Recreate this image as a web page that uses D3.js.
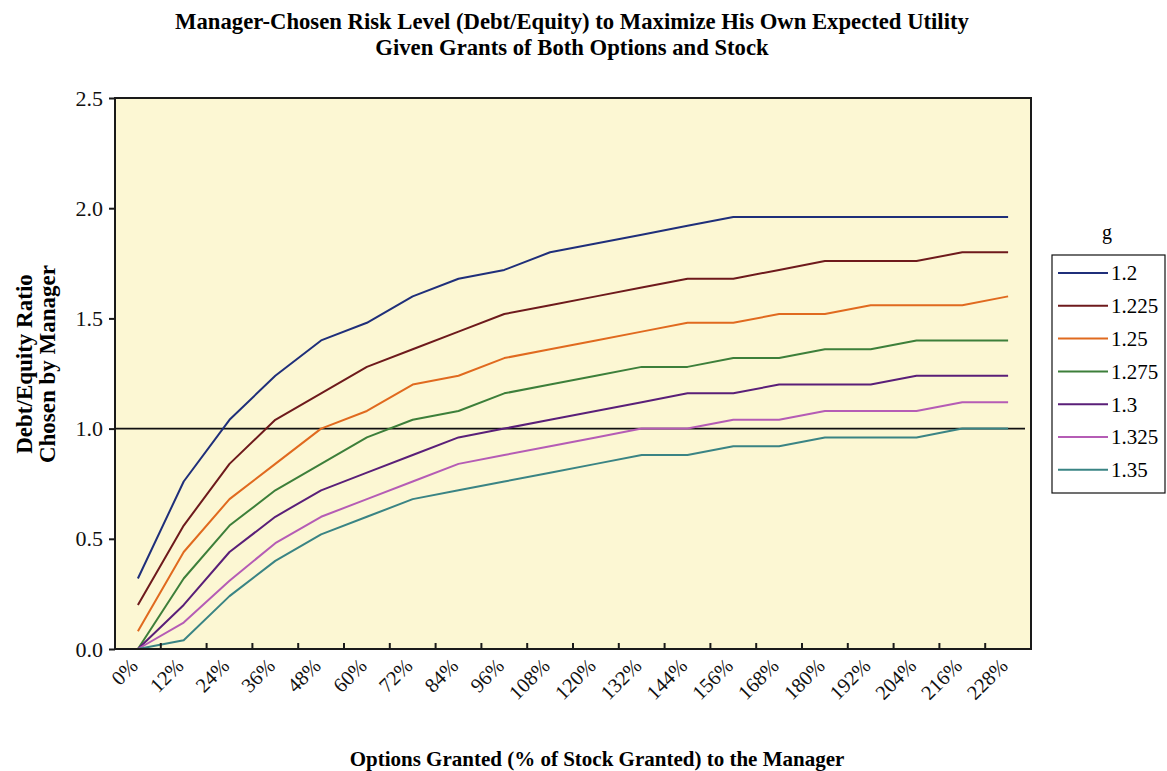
<!DOCTYPE html>
<html>
<head>
<meta charset="utf-8">
<script src="https://cdn.jsdelivr.net/npm/d3@7"></script>
<style>
  body { margin: 0; background: #fff; }
  svg { font-family: "Liberation Serif", "Times New Roman", serif; }
</style>
</head>
<body>
<div id="chart"></div>
<script>
// categories: options granted as % of stock granted
const categories = ["0%", "12%", "24%", "36%", "48%", "60%", "72%", "84%", "96%", "108%",
  "120%", "132%", "144%", "156%", "168%", "180%", "192%", "204%", "216%", "228%"];

const yTicks = [0, 0.5, 1.0, 1.5, 2.0, 2.5];

const gValues = ["1.2", "1.225", "1.25", "1.275", "1.3", "1.325", "1.35"];

const g120  = [0.32, 0.76, 1.04, 1.24, 1.40, 1.48, 1.60, 1.68, 1.72, 1.80, 1.84, 1.88, 1.92, 1.96, 1.96, 1.96, 1.96, 1.96, 1.96, 1.96];
const g1225 = [0.20, 0.56, 0.84, 1.04, 1.16, 1.28, 1.36, 1.44, 1.52, 1.56, 1.60, 1.64, 1.68, 1.68, 1.72, 1.76, 1.76, 1.76, 1.80, 1.80];
const g125  = [0.08, 0.44, 0.68, 0.84, 1.00, 1.08, 1.20, 1.24, 1.32, 1.36, 1.40, 1.44, 1.48, 1.48, 1.52, 1.52, 1.56, 1.56, 1.56, 1.60];
const g1275 = [0.00, 0.32, 0.56, 0.72, 0.84, 0.96, 1.04, 1.08, 1.16, 1.20, 1.24, 1.28, 1.28, 1.32, 1.32, 1.36, 1.36, 1.40, 1.40, 1.40];
const g130  = [0.00, 0.20, 0.44, 0.60, 0.72, 0.80, 0.88, 0.96, 1.00, 1.04, 1.08, 1.12, 1.16, 1.16, 1.20, 1.20, 1.20, 1.24, 1.24, 1.24];
const g1325 = [0.00, 0.12, 0.31, 0.48, 0.60, 0.68, 0.76, 0.84, 0.88, 0.92, 0.96, 1.00, 1.00, 1.04, 1.04, 1.08, 1.08, 1.08, 1.12, 1.12];
const g135  = [0.00, 0.04, 0.24, 0.40, 0.52, 0.60, 0.68, 0.72, 0.76, 0.80, 0.84, 0.88, 0.88, 0.92, 0.92, 0.96, 0.96, 0.96, 1.00, 1.00];

const seriesValues = [g120, g1225, g125, g1275, g130, g1325, g135];
const colors = ["#1f2f7a", "#6e1a1c", "#e06a1f", "#3d7f3a", "#5a1f78", "#b55cb5", "#3a8484"];

const W = 1167, H = 771;
const margin = { top: 98, right: 136, bottom: 122, left: 115 };
const innerW = W - margin.left - margin.right;
const innerH = H - margin.top - margin.bottom;

const svg = d3.select("#chart").append("svg")
  .attr("width", W)
  .attr("height", H);

// title
const title = svg.append("text")
  .attr("text-anchor", "middle")
  .attr("font-weight", "bold")
  .attr("font-size", "22.7px");
title.append("tspan").attr("x", 572).attr("y", 29)
  .text("Manager-Chosen Risk Level (Debt/Equity) to Maximize His Own Expected Utility");
title.append("tspan").attr("x", 572).attr("y", 55)
  .text("Given Grants of Both Options and Stock");

const g = svg.append("g")
  .attr("transform", `translate(${margin.left},${margin.top})`);

const x = d3.scaleBand()
  .domain(categories)
  .range([0, innerW]);

const y = d3.scaleLinear()
  .domain([0, 2.5])
  .range([innerH, 0]);

// plot background
g.append("rect")
  .attr("width", innerW)
  .attr("height", innerH)
  .attr("fill", "#fcf7d3");

// reference line at 1.0
g.append("line")
  .attr("x1", 0)
  .attr("x2", innerW - 6)
  .attr("y1", y(1))
  .attr("y2", y(1))
  .attr("stroke", "#111")
  .attr("stroke-width", 1.8);

// lines
const line = d3.line()
  .x((d, i) => x(categories[i]) + x.bandwidth() / 2)
  .y(d => y(d));

seriesValues.forEach((vals, k) => {
  g.append("path")
    .datum(vals)
    .attr("fill", "none")
    .attr("stroke", colors[k])
    .attr("stroke-width", 2)
    .attr("stroke-linejoin", "round")
    .attr("d", line);
});

// plot border
g.append("rect")
  .attr("width", innerW)
  .attr("height", innerH)
  .attr("fill", "none")
  .attr("stroke", "#1a1a1a")
  .attr("stroke-width", 2);

// y axis
const yAxis = g.append("g")
  .call(d3.axisLeft(y).tickValues(yTicks).tickFormat(d3.format(".1f")).tickSize(6).tickPadding(6));
yAxis.select(".domain").remove();
yAxis.selectAll(".tick line").attr("stroke", "#1a1a1a").attr("stroke-width", 2);
yAxis.selectAll(".tick text")
  .attr("font-family", "Liberation Serif, serif")
  .attr("font-size", "22px")
  .attr("fill", "#111");

// x ticks at category boundaries (pointing up, inside)
g.append("g")
  .selectAll("line")
  .data(categories.slice(1))
  .join("line")
  .attr("x1", d => x(d))
  .attr("x2", d => x(d))
  .attr("y1", innerH)
  .attr("y2", innerH - 6)
  .attr("stroke", "#1a1a1a")
  .attr("stroke-width", 2);

// x tick labels, rotated
g.append("g")
  .selectAll("text")
  .data(categories)
  .join("text")
  .attr("transform", d => `translate(${x(d) + x.bandwidth() / 2 - 4},${innerH + 13}) rotate(-45)`)
  .attr("text-anchor", "end")
  .attr("dy", "0.35em")
  .attr("font-size", "20.5px")
  .attr("fill", "#111")
  .text(d => d);

// axis titles
svg.append("text")
  .attr("x", 597)
  .attr("y", 766)
  .attr("text-anchor", "middle")
  .attr("font-weight", "bold")
  .attr("font-size", "21px")
  .text("Options Granted (% of Stock Granted) to the Manager");

const yTitle = svg.append("text")
  .attr("transform", "translate(0,364) rotate(-90)")
  .attr("text-anchor", "middle")
  .attr("font-weight", "bold")
  .attr("font-size", "23px");
yTitle.append("tspan").attr("x", 0).attr("y", 32).text("Debt/Equity Ratio");
yTitle.append("tspan").attr("x", 0).attr("y", 55).text("Chosen by Manager");

// legend
const legend = svg.append("g").attr("transform", "translate(1052,255)");
legend.append("text")
  .attr("x", 55)
  .attr("y", -16)
  .attr("text-anchor", "middle")
  .attr("font-size", "20px")
  .text("g");
legend.append("rect")
  .attr("width", 113)
  .attr("height", 238)
  .attr("fill", "#fff")
  .attr("stroke", "#111")
  .attr("stroke-width", 1.2);

const rowH = 32.8;
gValues.forEach((label, k) => {
  const row = legend.append("g").attr("transform", `translate(0,${18 + k * rowH})`);
  row.append("line")
    .attr("x1", 6).attr("x2", 56)
    .attr("y1", 0).attr("y2", 0)
    .attr("stroke", colors[k])
    .attr("stroke-width", 2);
  row.append("text")
    .attr("x", 59)
    .attr("dy", "0.35em")
    .attr("font-size", "21px")
    .text(label);
});
</script>
</body>
</html>
